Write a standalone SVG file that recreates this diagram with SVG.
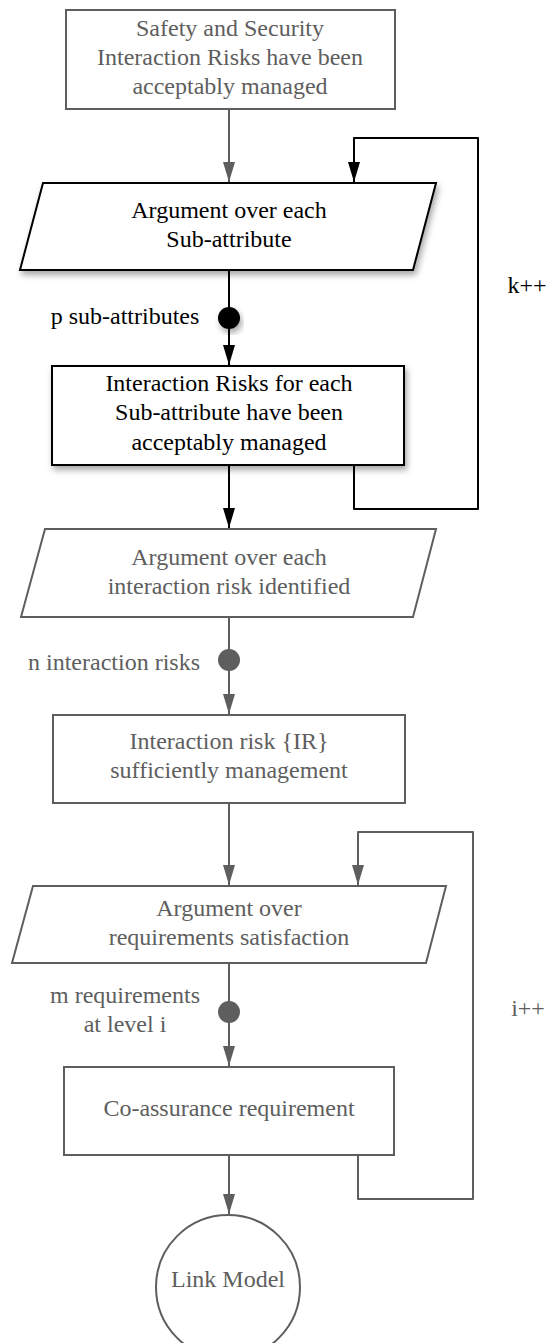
<svg xmlns="http://www.w3.org/2000/svg" width="547" height="1343" viewBox="0 0 547 1343">
  <style>
    .gray { fill: #fff; stroke: #5e5e5e; stroke-width: 2; }
    .dark { fill: #fff; stroke: #000; stroke-width: 2; }
    .t { font-family: "Liberation Serif", "Times New Roman", serif; font-size: 24px; text-anchor: middle; }
    .tg { fill: #5e5e5e; }
    .tb { fill: #000; }
    .cg { fill: none; stroke: #5e5e5e; stroke-width: 2; stroke-linejoin: round; }
    .cb { fill: none; stroke: #000; stroke-width: 2; stroke-linejoin: round; }
  </style>
  <defs>
    <marker id="ah-gray" markerUnits="userSpaceOnUse" markerWidth="20" markerHeight="12" refX="20" refY="6" orient="auto" viewBox="0 0 20 12">
      <path d="M0,0 L20,6 L0,12 Z" fill="#5e5e5e"/>
    </marker>
    <marker id="ah-black" markerUnits="userSpaceOnUse" markerWidth="20" markerHeight="12" refX="20" refY="6" orient="auto" viewBox="0 0 20 12">
      <path d="M0,0 L20,6 L0,12 Z" fill="#000"/>
    </marker>
    <filter id="shadow" x="-10%" y="-10%" width="125%" height="135%">
      <feDropShadow dx="2" dy="4" stdDeviation="3" flood-color="#000" flood-opacity="0.35"/>
    </filter>
  </defs>

  <!-- connectors -->
  <g id="connectors">
    <path class="cg" d="M229,109 V182" marker-end="url(#ah-gray)"/>
    <path class="cb" d="M229,270 V318"/>
    <path class="cb" d="M229,318 V365" marker-end="url(#ah-black)"/>
    <path class="cb" d="M229,465 V528" marker-end="url(#ah-black)"/>
    <path class="cb" d="M354,465 V509 H478 V138 H354 V182" marker-end="url(#ah-black)"/>
    <path class="cg" d="M229,617 V660"/>
    <path class="cg" d="M229,660 V714" marker-end="url(#ah-gray)"/>
    <path class="cg" d="M229,803 V885" marker-end="url(#ah-gray)"/>
    <path class="cg" d="M358,1155 V1199 H473 V832 H358 V885" marker-end="url(#ah-gray)"/>
    <path class="cg" d="M229,963 V1012"/>
    <path class="cg" d="M229,1012 V1066" marker-end="url(#ah-gray)"/>
    <path class="cg" d="M229,1155 V1214" marker-end="url(#ah-gray)"/>
  </g>

  <!-- loop counters and multiplicity labels -->
  <g id="labels">
    <text class="t tb" x="527" y="293">k++</text>
    <text class="t tb" x="125" y="324">p sub-attributes</text>
    <text class="t tg" x="114" y="670">n interaction risks</text>
    <text class="t tg" x="528" y="1016">i++</text>
    <text class="t tg" x="125" y="1003">m requirements</text>
    <text class="t tg" x="125" y="1032">at level i</text>
  </g>

  <g id="top-goal">
    <rect class="gray" x="66" y="10" width="329" height="99"/>
    <text class="t tg" x="230" y="36">Safety and Security</text>
    <text class="t tg" x="230" y="65">Interaction Risks have been</text>
    <text class="t tg" x="230" y="94">acceptably managed</text>
  </g>

  <g id="sub-attribute-strategy">
    <polygon class="dark" points="43,183 436,183 413,270 20,270" filter="url(#shadow)"/>
    <text class="t tb" x="229" y="218">Argument over each</text>
    <text class="t tb" x="229" y="247">Sub-attribute</text>
  </g>

  <g id="sub-attribute-dot">
    <circle cx="229" cy="318" r="11" fill="#000" filter="url(#shadow)"/>
  </g>

  <g id="sub-attribute-goal">
    <rect class="dark" x="52" y="366" width="352" height="99" filter="url(#shadow)"/>
    <text class="t tb" x="229" y="391">Interaction Risks for each</text>
    <text class="t tb" x="229" y="420">Sub-attribute have been</text>
    <text class="t tb" x="229" y="450">acceptably managed</text>
  </g>

  <g id="risk-strategy">
    <polygon class="gray" points="45,529 436,529 413,617 21,617"/>
    <text class="t tg" x="229" y="565">Argument over each</text>
    <text class="t tg" x="229" y="594">interaction risk identified</text>
  </g>

  <g id="risk-dot">
    <circle cx="229" cy="660" r="11" fill="#5e5e5e"/>
  </g>

  <g id="risk-goal">
    <rect class="gray" x="53" y="715" width="352" height="88"/>
    <text class="t tg" x="229" y="749">Interaction risk {IR}</text>
    <text class="t tg" x="229" y="778">sufficiently management</text>
  </g>

  <g id="requirements-strategy">
    <polygon class="gray" points="33,886 446,886 426,963 12,963"/>
    <text class="t tg" x="229" y="916">Argument over</text>
    <text class="t tg" x="229" y="945">requirements satisfaction</text>
  </g>

  <g id="requirements-dot">
    <circle cx="229" cy="1012" r="11" fill="#5e5e5e"/>
  </g>

  <g id="co-assurance-requirement">
    <rect class="gray" x="64" y="1067" width="330" height="88"/>
    <text class="t tg" x="229" y="1116">Co-assurance requirement</text>
  </g>

  <g id="link-model">
    <circle class="gray" cx="228" cy="1287" r="72"/>
    <text class="t tg" x="228" y="1287">Link Model</text>
  </g>
</svg>
